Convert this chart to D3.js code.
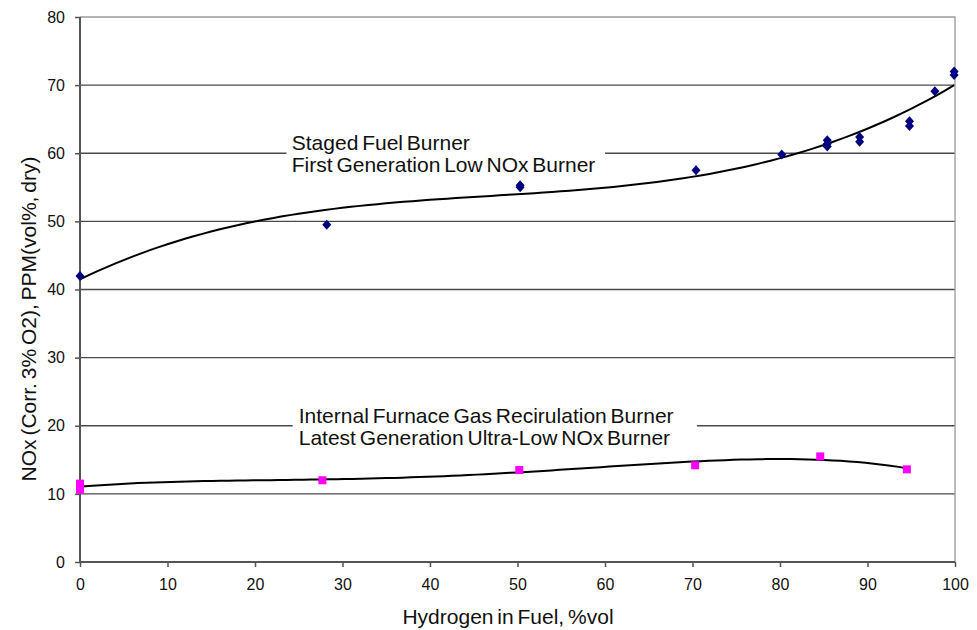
<!DOCTYPE html>
<html>
<head>
<meta charset="utf-8">
<script src="https://cdn.jsdelivr.net/npm/d3@7"></script>
<style>
  body { margin: 0; background: #fff; }
  svg text { font-family: "Liberation Sans", Arial, sans-serif; fill: #111; }
</style>
</head>
<body>
<svg id="chart"></svg>
<script>
// staged fuel burner (first generation low NOx)
var stagedX = [0, 28.2, 50.3, 50.3, 70.4, 80.2, 85.4, 85.4, 85.4, 89.1, 89.1, 94.8, 94.8, 97.7, 99.9, 99.9];
var stagedY = [42.0, 49.5, 55.3, 55.0, 57.5, 59.8, 61.9, 61.4, 61.0, 62.4, 61.7, 64.7, 64.0, 69.1, 72.0, 71.5];

// internal furnace gas recirculation burner (ultra-low NOx)
var recircX = [0, 0, 27.7, 50.2, 70.3, 84.6, 94.5];
var recircY = [11.5, 10.6, 12.0, 13.5, 14.2, 15.5, 13.6];

var xTicks = [0, 10, 20, 30, 40, 50, 60, 70, 80, 90, 100];
var yTicks = [0, 10, 20, 30, 40, 50, 60, 70, 80];

var labelsTop = ["Staged Fuel Burner", "First Generation Low NOx Burner"];
var labelsBottom = ["Internal Furnace Gas Recirulation Burner", "Latest Generation Ultra-Low NOx Burner"];

var width = 977, height = 630;
var margin = {top: 17, right: 22, bottom: 68, left: 80};

var svg = d3.select('#chart')
    .attr('width', width)
    .attr('height', height);

var x = d3.scaleLinear().domain([0, 100]).range([margin.left, width - margin.right]);
var y = d3.scaleLinear().domain([0, 80]).range([height - margin.bottom, margin.top]);

// least squares polynomial fit (like the spreadsheet trendline)
function polyFit(xs, ys, order) {
    var n = order + 1;
    var A = [];
    for (var i = 0; i < n; i++) {
        A.push(new Array(n + 1).fill(0));
    }
    for (var k = 0; k < xs.length; k++) {
        var xv = xs[k] / 100;
        for (var i = 0; i < n; i++) {
            for (var j = 0; j < n; j++) {
                A[i][j] += Math.pow(xv, i + j);
            }
            A[i][n] += ys[k] * Math.pow(xv, i);
        }
    }
    for (var c = 0; c < n; c++) {
        var p = c;
        for (var r = c + 1; r < n; r++) if (Math.abs(A[r][c]) > Math.abs(A[p][c])) p = r;
        var tmp = A[c]; A[c] = A[p]; A[p] = tmp;
        for (var r = 0; r < n; r++) {
            if (r === c) continue;
            var f = A[r][c] / A[c][c];
            for (var j = c; j <= n; j++) A[r][j] -= f * A[c][j];
        }
    }
    var coef = [];
    for (var i = 0; i < n; i++) coef.push(A[i][n] / A[i][i]);
    return function(v) {
        var s = 0;
        for (var i = 0; i < n; i++) s += coef[i] * Math.pow(v / 100, i);
        return s;
    };
}

// gridlines
svg.append('g')
    .selectAll('line')
    .data(yTicks.filter(function(d) { return d > 0 && d < 80; }))
    .enter().append('line')
    .attr('x1', x(0)).attr('x2', x(100))
    .attr('y1', function(d) { return y(d); })
    .attr('y2', function(d) { return y(d); })
    .attr('stroke', '#4a4a4a')
    .attr('stroke-width', 1.3);

// plot border top / right
svg.append('path')
    .attr('d', 'M' + x(0) + ',' + y(80) + 'H' + x(100) + 'V' + y(0))
    .attr('fill', 'none')
    .attr('stroke', '#9a9a9a')
    .attr('stroke-width', 1.3);

// axes
var xAxis = svg.append('g')
    .attr('transform', 'translate(0,' + y(0) + ')')
    .call(d3.axisBottom(x).tickValues(xTicks).tickSize(5).tickPadding(12));
var yAxis = svg.append('g')
    .attr('transform', 'translate(' + x(0) + ',0)')
    .call(d3.axisLeft(y).tickValues(yTicks).tickSize(5).tickPadding(10));
[xAxis, yAxis].forEach(function(a) {
    a.select('.domain').attr('stroke', '#555').attr('stroke-width', 2);
    a.selectAll('.tick line').attr('stroke', '#555').attr('stroke-width', 1.5);
    a.selectAll('.tick text')
        .style('font-family', '"Liberation Sans", Arial, sans-serif')
        .style('font-size', '16px')
        .attr('fill', '#111');
});
xAxis.selectAll('.domain').attr('d', 'M' + x(0) + ',0H' + x(100));
yAxis.selectAll('.domain').attr('d', 'M0,' + y(0) + 'V' + y(80));

// axis titles
svg.append('text')
    .attr('x', 508).attr('y', 624)
    .attr('text-anchor', 'middle')
    .style('font-size', '21px')
    .style('word-spacing', '-2px')
    .text('Hydrogen in Fuel, %vol');
svg.append('text')
    .attr('transform', 'translate(36,319) rotate(-90)')
    .attr('text-anchor', 'middle')
    .style('font-size', '21px')
    .style('word-spacing', '-2px')
    .text('NOx (Corr. 3% O2), PPM(vol%, dry)');

// annotation boxes
function annotate(lines, x0, x1, yv, tx) {
    svg.append('rect')
        .attr('x', x(x0)).attr('width', x(x1) - x(x0))
        .attr('y', y(yv) - 24).attr('height', 46)
        .attr('fill', '#fff');
    var t = svg.append('text')
        .style('font-size', '21px')
        .style('word-spacing', '-2px');
    t.selectAll('tspan')
        .data(lines)
        .enter().append('tspan')
        .attr('x', x(tx))
        .attr('y', function(d, i) { return y(yv) - 3 + i * 22; })
        .text(function(d) { return d; });
}
annotate(labelsTop, 23.6, 60.0, 60, 24.2);
annotate(labelsBottom, 24.3, 70.5, 20, 25.0);

// trendlines
var line = d3.line()
    .x(function(d) { return x(d[0]); })
    .y(function(d) { return y(d[1]); });

function trend(xs, ys, order) {
    var f = polyFit(xs, ys, order);
    var lo = d3.min(xs), hi = d3.max(xs);
    var pts = d3.range(0, 101).map(function(i) {
        var v = lo + (hi - lo) * i / 100;
        return [v, f(v)];
    });
    svg.append('path')
        .datum(pts)
        .attr('d', line)
        .attr('fill', 'none')
        .attr('stroke', '#000')
        .attr('stroke-width', 2);
}
trend(stagedX, stagedY, 3);
trend(recircX, recircY, 4);

// markers
svg.append('g')
    .selectAll('path')
    .data(d3.zip(stagedX, stagedY))
    .enter().append('path')
    .attr('d', 'M0,-5L4.5,0L0,5L-4.5,0Z')
    .attr('transform', function(d) { return 'translate(' + x(d[0]) + ',' + y(d[1]) + ')'; })
    .attr('fill', '#000080');

svg.append('g')
    .selectAll('rect')
    .data(d3.zip(recircX, recircY))
    .enter().append('rect')
    .attr('x', function(d) { return x(d[0]) - 4; })
    .attr('y', function(d) { return y(d[1]) - 4; })
    .attr('width', 8).attr('height', 8)
    .attr('fill', '#ff00ff');
</script>
</body>
</html>
